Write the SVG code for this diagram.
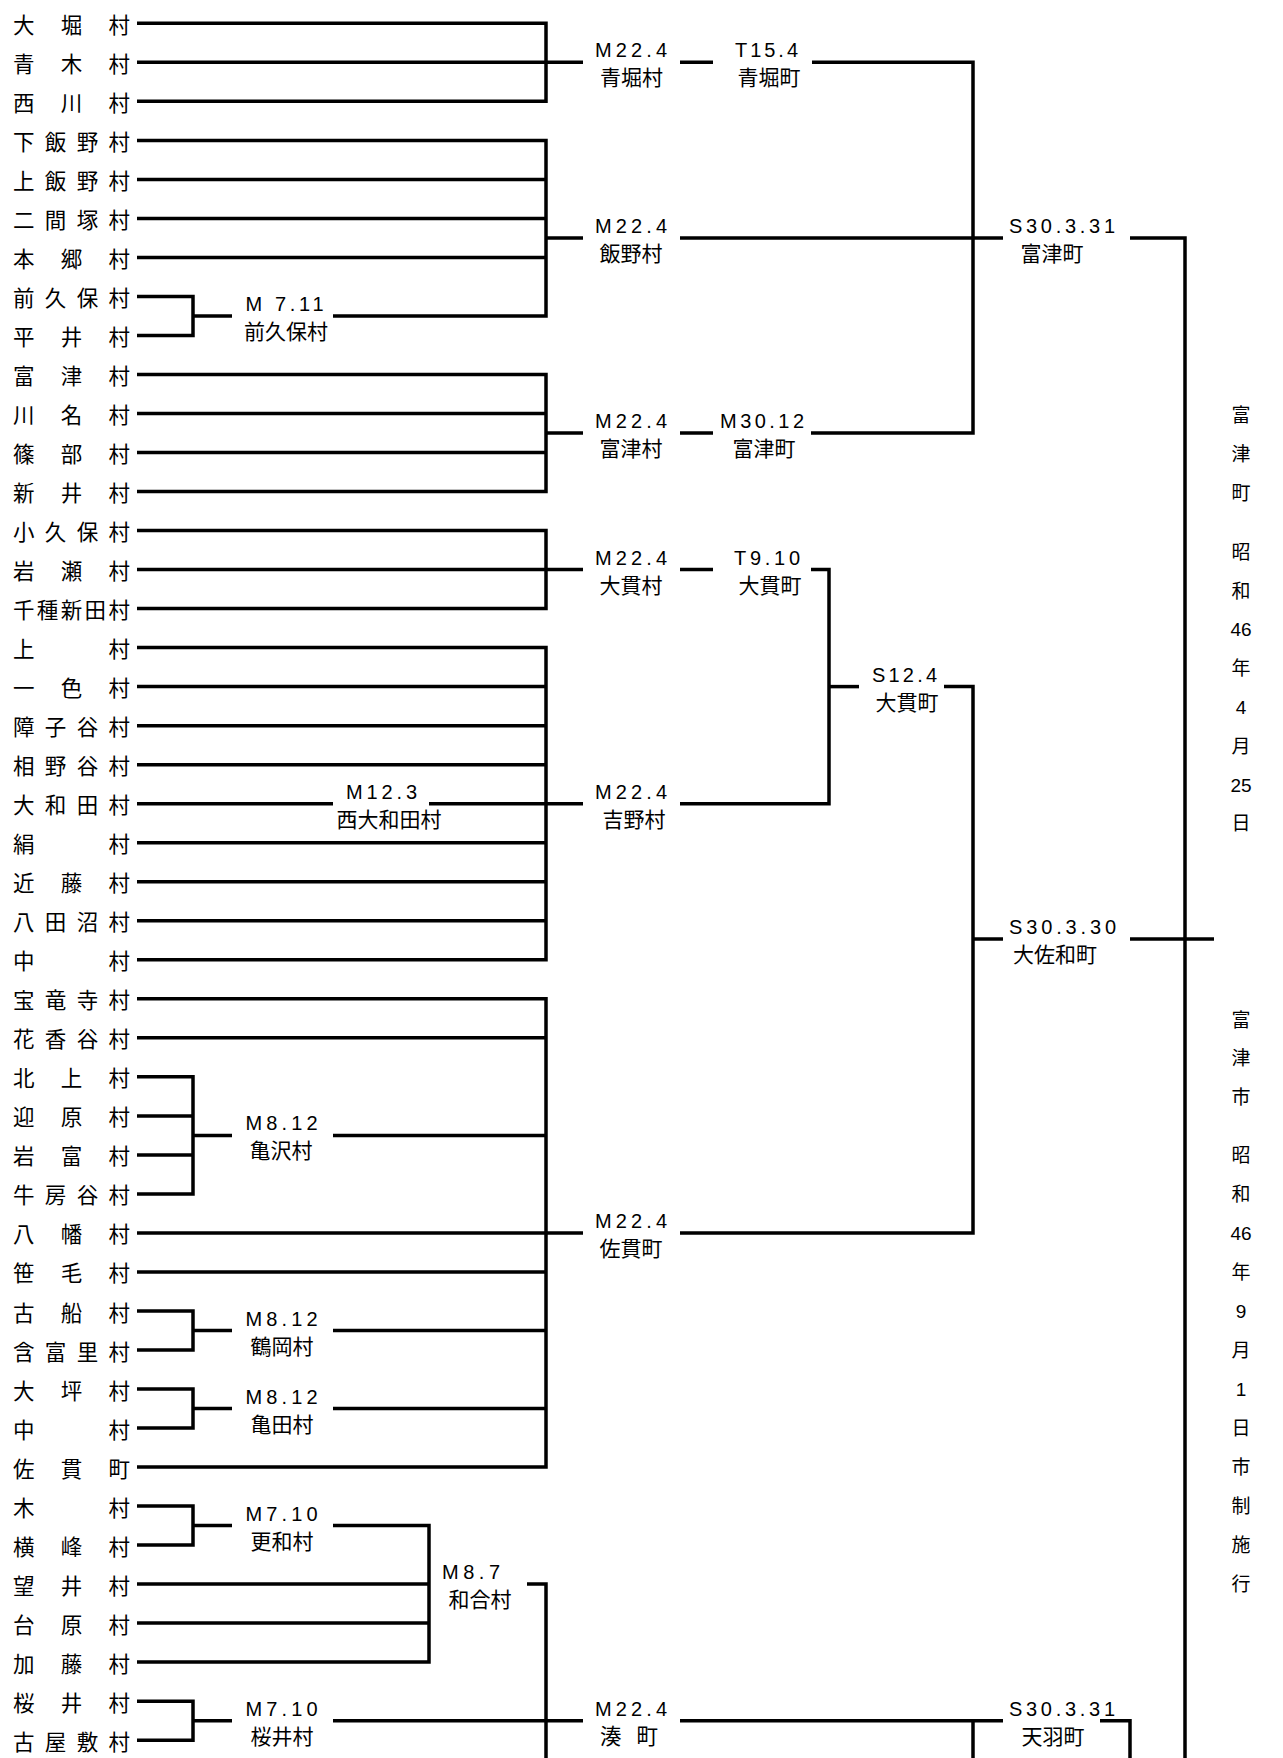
<svg xmlns="http://www.w3.org/2000/svg" width="1283" height="1758" viewBox="0 0 1283 1758">
<style>
  .bg { fill: #ffffff; }
  .vl { font-family: "Noto Sans CJK JP", "Noto Sans CJK SC", sans-serif; font-size: 21.5px; fill: #000; dominant-baseline: central; }
  .dt { font-family: "Liberation Sans", Arial, sans-serif; font-size: 20px; fill: #000; }
  .nm { font-family: "Noto Sans CJK JP", "Noto Sans CJK SC", sans-serif; font-size: 21px; fill: #000; text-anchor: middle; dominant-baseline: central; }
  .side { font-family: "Liberation Sans", "Noto Sans CJK JP", sans-serif; font-size: 19px; fill: #000; text-anchor: middle; dominant-baseline: central; }
  .ln { fill: none; stroke: #000; stroke-width: 3.5; stroke-linejoin: miter; stroke-linecap: butt; }
</style>
<rect class="bg" x="0" y="0" width="1283" height="1758"/>

<g id="villages">
  <g id="v00"><text class="vl" x="13" y="23.3" textLength="117" lengthAdjust="spacing">大堀村</text></g>
  <g id="v01"><text class="vl" x="13" y="62.3" textLength="117" lengthAdjust="spacing">青木村</text></g>
  <g id="v02"><text class="vl" x="13" y="101.3" textLength="117" lengthAdjust="spacing">西川村</text></g>
  <g id="v03"><text class="vl" x="13" y="140.4" textLength="117" lengthAdjust="spacing">下飯野村</text></g>
  <g id="v04"><text class="vl" x="13" y="179.4" textLength="117" lengthAdjust="spacing">上飯野村</text></g>
  <g id="v05"><text class="vl" x="13" y="218.4" textLength="117" lengthAdjust="spacing">二間塚村</text></g>
  <g id="v06"><text class="vl" x="13" y="257.4" textLength="117" lengthAdjust="spacing">本郷村</text></g>
  <g id="v07"><text class="vl" x="13" y="296.4" textLength="117" lengthAdjust="spacing">前久保村</text></g>
  <g id="v08"><text class="vl" x="13" y="335.5" textLength="117" lengthAdjust="spacing">平井村</text></g>
  <g id="v09"><text class="vl" x="13" y="374.5" textLength="117" lengthAdjust="spacing">富津村</text></g>
  <g id="v10"><text class="vl" x="13" y="413.5" textLength="117" lengthAdjust="spacing">川名村</text></g>
  <g id="v11"><text class="vl" x="13" y="452.5" textLength="117" lengthAdjust="spacing">篠部村</text></g>
  <g id="v12"><text class="vl" x="13" y="491.5" textLength="117" lengthAdjust="spacing">新井村</text></g>
  <g id="v13"><text class="vl" x="13" y="530.6" textLength="117" lengthAdjust="spacing">小久保村</text></g>
  <g id="v14"><text class="vl" x="13" y="569.6" textLength="117" lengthAdjust="spacing">岩瀬村</text></g>
  <g id="v15"><text class="vl" x="13" y="608.6" textLength="117" lengthAdjust="spacing">千種新田村</text></g>
  <g id="v16"><text class="vl" x="13" y="647.6" textLength="117" lengthAdjust="spacing">上村</text></g>
  <g id="v17"><text class="vl" x="13" y="686.6" textLength="117" lengthAdjust="spacing">一色村</text></g>
  <g id="v18"><text class="vl" x="13" y="725.7" textLength="117" lengthAdjust="spacing">障子谷村</text></g>
  <g id="v19"><text class="vl" x="13" y="764.7" textLength="117" lengthAdjust="spacing">相野谷村</text></g>
  <g id="v20"><text class="vl" x="13" y="803.7" textLength="117" lengthAdjust="spacing">大和田村</text></g>
  <g id="v21"><text class="vl" x="13" y="842.7" textLength="117" lengthAdjust="spacing">絹村</text></g>
  <g id="v22"><text class="vl" x="13" y="881.7" textLength="117" lengthAdjust="spacing">近藤村</text></g>
  <g id="v23"><text class="vl" x="13" y="920.8" textLength="117" lengthAdjust="spacing">八田沼村</text></g>
  <g id="v24"><text class="vl" x="13" y="959.8" textLength="117" lengthAdjust="spacing">中村</text></g>
  <g id="v25"><text class="vl" x="13" y="998.8" textLength="117" lengthAdjust="spacing">宝竜寺村</text></g>
  <g id="v26"><text class="vl" x="13" y="1037.8" textLength="117" lengthAdjust="spacing">花香谷村</text></g>
  <g id="v27"><text class="vl" x="13" y="1076.8" textLength="117" lengthAdjust="spacing">北上村</text></g>
  <g id="v28"><text class="vl" x="13" y="1115.9" textLength="117" lengthAdjust="spacing">迎原村</text></g>
  <g id="v29"><text class="vl" x="13" y="1154.9" textLength="117" lengthAdjust="spacing">岩富村</text></g>
  <g id="v30"><text class="vl" x="13" y="1193.9" textLength="117" lengthAdjust="spacing">牛房谷村</text></g>
  <g id="v31"><text class="vl" x="13" y="1232.9" textLength="117" lengthAdjust="spacing">八幡村</text></g>
  <g id="v32"><text class="vl" x="13" y="1271.9" textLength="117" lengthAdjust="spacing">笹毛村</text></g>
  <g id="v33"><text class="vl" x="13" y="1311" textLength="117" lengthAdjust="spacing">古船村</text></g>
  <g id="v34"><text class="vl" x="13" y="1350" textLength="117" lengthAdjust="spacing">含富里村</text></g>
  <g id="v35"><text class="vl" x="13" y="1389" textLength="117" lengthAdjust="spacing">大坪村</text></g>
  <g id="v36"><text class="vl" x="13" y="1428" textLength="117" lengthAdjust="spacing">中村</text></g>
  <g id="v37"><text class="vl" x="13" y="1467" textLength="117" lengthAdjust="spacing">佐貫町</text></g>
  <g id="v38"><text class="vl" x="13" y="1506.1" textLength="117" lengthAdjust="spacing">木村</text></g>
  <g id="v39"><text class="vl" x="13" y="1545.1" textLength="117" lengthAdjust="spacing">横峰村</text></g>
  <g id="v40"><text class="vl" x="13" y="1584.1" textLength="117" lengthAdjust="spacing">望井村</text></g>
  <g id="v41"><text class="vl" x="13" y="1623.1" textLength="117" lengthAdjust="spacing">台原村</text></g>
  <g id="v42"><text class="vl" x="13" y="1662.1" textLength="117" lengthAdjust="spacing">加藤村</text></g>
  <g id="v43"><text class="vl" x="13" y="1701.2" textLength="117" lengthAdjust="spacing">桜井村</text></g>
  <g id="v44"><text class="vl" x="13" y="1740.2" textLength="117" lengthAdjust="spacing">古屋敷村</text></g>
</g>

<g id="merges">
  <g id="n-maekubo"><text class="dt" x="245.5" y="311" textLength="78" lengthAdjust="spacing">M 7.11</text><text class="nm" x="286" y="330">前久保村</text></g>
  <g id="n-kamezawa"><text class="dt" x="245.5" y="1130.4" textLength="72" lengthAdjust="spacing">M8.12</text><text class="nm" x="281" y="1149.4">亀沢村</text></g>
  <g id="n-tsuruoka"><text class="dt" x="245.5" y="1325.5" textLength="72" lengthAdjust="spacing">M8.12</text><text class="nm" x="282" y="1344.5">鶴岡村</text></g>
  <g id="n-kameda"><text class="dt" x="245.5" y="1403.5" textLength="72" lengthAdjust="spacing">M8.12</text><text class="nm" x="282" y="1422.5">亀田村</text></g>
  <g id="n-nishiowada"><text class="dt" x="346" y="798.7" textLength="71" lengthAdjust="spacing">M12.3</text><text class="nm" x="389" y="817.7">西大和田村</text></g>
  <g id="n-sarawa"><text class="dt" x="245.5" y="1520.6" textLength="72" lengthAdjust="spacing">M7.10</text><text class="nm" x="282" y="1539.6">更和村</text></g>
  <g id="n-wago"><text class="dt" x="442" y="1579.1" textLength="58" lengthAdjust="spacing">M8.7</text><text class="nm" x="480" y="1598.1">和合村</text></g>
  <g id="n-sakurai"><text class="dt" x="245.5" y="1715.7" textLength="72" lengthAdjust="spacing">M7.10</text><text class="nm" x="282" y="1734.7">桜井村</text></g>

  <g id="n-aohori-v"><text class="dt" x="595" y="57.3" textLength="72" lengthAdjust="spacing">M22.4</text><text class="nm" x="631.5" y="76.3">青堀村</text></g>
  <g id="n-iino"><text class="dt" x="595" y="233" textLength="72" lengthAdjust="spacing">M22.4</text><text class="nm" x="631" y="252">飯野村</text></g>
  <g id="n-futtsu-v"><text class="dt" x="595" y="428" textLength="72" lengthAdjust="spacing">M22.4</text><text class="nm" x="631" y="447">富津村</text></g>
  <g id="n-onuki-v"><text class="dt" x="595" y="564.6" textLength="72" lengthAdjust="spacing">M22.4</text><text class="nm" x="631" y="583.6">大貫村</text></g>
  <g id="n-yoshino"><text class="dt" x="595" y="798.7" textLength="72" lengthAdjust="spacing">M22.4</text><text class="nm" x="634" y="817.7">吉野村</text></g>
  <g id="n-sanuki"><text class="dt" x="595" y="1227.9" textLength="72" lengthAdjust="spacing">M22.4</text><text class="nm" x="631" y="1246.9">佐貫町</text></g>
  <g id="n-minato"><text class="dt" x="595" y="1715.7" textLength="72" lengthAdjust="spacing">M22.4</text><text class="vl" x="600" y="1734.7" textLength="58" lengthAdjust="spacing">湊町</text></g>

  <g id="n-aohori-t"><text class="dt" x="735" y="57.3" textLength="63" lengthAdjust="spacing">T15.4</text><text class="nm" x="769" y="76.3">青堀町</text></g>
  <g id="n-futtsu-t"><text class="dt" x="720" y="428" textLength="84" lengthAdjust="spacing">M30.12</text><text class="nm" x="764" y="447">富津町</text></g>
  <g id="n-onuki-t"><text class="dt" x="734" y="564.6" textLength="66" lengthAdjust="spacing">T9.10</text><text class="nm" x="770" y="583.6">大貫町</text></g>
  <g id="n-onuki-s"><text class="dt" x="872" y="681.6" textLength="65" lengthAdjust="spacing">S12.4</text><text class="nm" x="907" y="700.6">大貫町</text></g>

  <g id="n-futtsu-s"><text class="dt" x="1009" y="233" textLength="106" lengthAdjust="spacing">S30.3.31</text><text class="nm" x="1052" y="252">富津町</text></g>
  <g id="n-osawa"><text class="dt" x="1009" y="934" textLength="107" lengthAdjust="spacing">S30.3.30</text><text class="nm" x="1055" y="953">大佐和町</text></g>
  <g id="n-amaha"><text class="dt" x="1009" y="1715.7" textLength="106" lengthAdjust="spacing">S30.3.31</text><text class="nm" x="1053" y="1734.7">天羽町</text></g>
</g>

<g id="notes">
  <g id="note-town">
    <text class="side"><tspan x="1241" y="415">富</tspan><tspan x="1241" y="454">津</tspan><tspan x="1241" y="493">町</tspan><tspan x="1241" y="552">昭</tspan><tspan x="1241" y="591">和</tspan><tspan x="1241" y="629">46</tspan><tspan x="1241" y="668">年</tspan><tspan x="1241" y="707">4</tspan><tspan x="1241" y="746">月</tspan><tspan x="1241" y="785">25</tspan><tspan x="1241" y="823">日</tspan></text>
  </g>
  <g id="note-city">
    <text class="side"><tspan x="1241" y="1020">富</tspan><tspan x="1241" y="1058">津</tspan><tspan x="1241" y="1097">市</tspan><tspan x="1241" y="1155">昭</tspan><tspan x="1241" y="1194">和</tspan><tspan x="1241" y="1233">46</tspan><tspan x="1241" y="1272">年</tspan><tspan x="1241" y="1311">9</tspan><tspan x="1241" y="1350">月</tspan><tspan x="1241" y="1389">1</tspan><tspan x="1241" y="1428">日</tspan><tspan x="1241" y="1467">市</tspan><tspan x="1241" y="1506">制</tspan><tspan x="1241" y="1545">施</tspan><tspan x="1241" y="1584">行</tspan></text>
  </g>
</g>

<g id="connectors" class="ln">
  <path class="ln" d="M137,23.3 H546 V101.3 H137"/>
  <path class="ln" d="M137,62.3 H583"/>
  <path class="ln" d="M680,62.3 H713"/>
  <path class="ln" d="M812,62.3 H973 V433 H811"/>
  <path class="ln" d="M137,140.4 H546 V316 H333"/>
  <path class="ln" d="M137,179.4 H546"/>
  <path class="ln" d="M137,218.4 H546"/>
  <path class="ln" d="M137,257.4 H546"/>
  <path class="ln" d="M546,238 H583"/>
  <path class="ln" d="M680,238 H1003"/>
  <path class="ln" d="M1130,238 H1185 V1758"/>
  <path class="ln" d="M137,296.4 H193 V335.5 H137"/>
  <path class="ln" d="M193,316 H232"/>
  <path class="ln" d="M137,374.5 H546 V491.5 H137"/>
  <path class="ln" d="M137,413.5 H546"/>
  <path class="ln" d="M137,452.5 H546"/>
  <path class="ln" d="M546,433 H583"/>
  <path class="ln" d="M680,433 H713"/>
  <path class="ln" d="M137,530.6 H546 V608.6 H137"/>
  <path class="ln" d="M137,569.6 H583"/>
  <path class="ln" d="M680,569.6 H713"/>
  <path class="ln" d="M811,569.6 H829 V803.7 H680"/>
  <path class="ln" d="M137,647.6 H546 V959.8 H137"/>
  <path class="ln" d="M137,686.6 H546"/>
  <path class="ln" d="M137,725.7 H546"/>
  <path class="ln" d="M137,764.7 H546"/>
  <path class="ln" d="M137,803.7 H333"/>
  <path class="ln" d="M429,803.7 H583"/>
  <path class="ln" d="M137,842.7 H546"/>
  <path class="ln" d="M137,881.7 H546"/>
  <path class="ln" d="M137,920.8 H546"/>
  <path class="ln" d="M829,686.6 H859"/>
  <path class="ln" d="M944,686.6 H973 V1232.9 H680"/>
  <path class="ln" d="M973,939 H1003"/>
  <path class="ln" d="M1130,939 H1214"/>
  <path class="ln" d="M137,998.8 H546 V1467 H137"/>
  <path class="ln" d="M137,1037.8 H546"/>
  <path class="ln" d="M137,1076.8 H193 V1193.9 H137"/>
  <path class="ln" d="M137,1115.9 H193"/>
  <path class="ln" d="M137,1154.9 H193"/>
  <path class="ln" d="M193,1135.4 H232"/>
  <path class="ln" d="M333,1135.4 H546"/>
  <path class="ln" d="M137,1232.9 H583"/>
  <path class="ln" d="M137,1271.9 H546"/>
  <path class="ln" d="M137,1311 H193 V1350 H137"/>
  <path class="ln" d="M193,1330.5 H232"/>
  <path class="ln" d="M333,1330.5 H546"/>
  <path class="ln" d="M137,1389 H193 V1428 H137"/>
  <path class="ln" d="M193,1408.5 H232"/>
  <path class="ln" d="M333,1408.5 H546"/>
  <path class="ln" d="M137,1506.1 H193 V1545.1 H137"/>
  <path class="ln" d="M193,1525.6 H232"/>
  <path class="ln" d="M333,1525.6 H429 V1662.1 H137"/>
  <path class="ln" d="M137,1584.1 H429"/>
  <path class="ln" d="M137,1623.1 H429"/>
  <path class="ln" d="M527,1584.1 H546 V1758"/>
  <path class="ln" d="M137,1701.2 H193 V1740.2 H137"/>
  <path class="ln" d="M193,1720.7 H232"/>
  <path class="ln" d="M333,1720.7 H583"/>
  <path class="ln" d="M680,1720.7 H1003"/>
  <path class="ln" d="M973,1720.7 V1758"/>
  <path class="ln" d="M1100,1720.7 H1130 V1758"/>
</g>
</svg>
